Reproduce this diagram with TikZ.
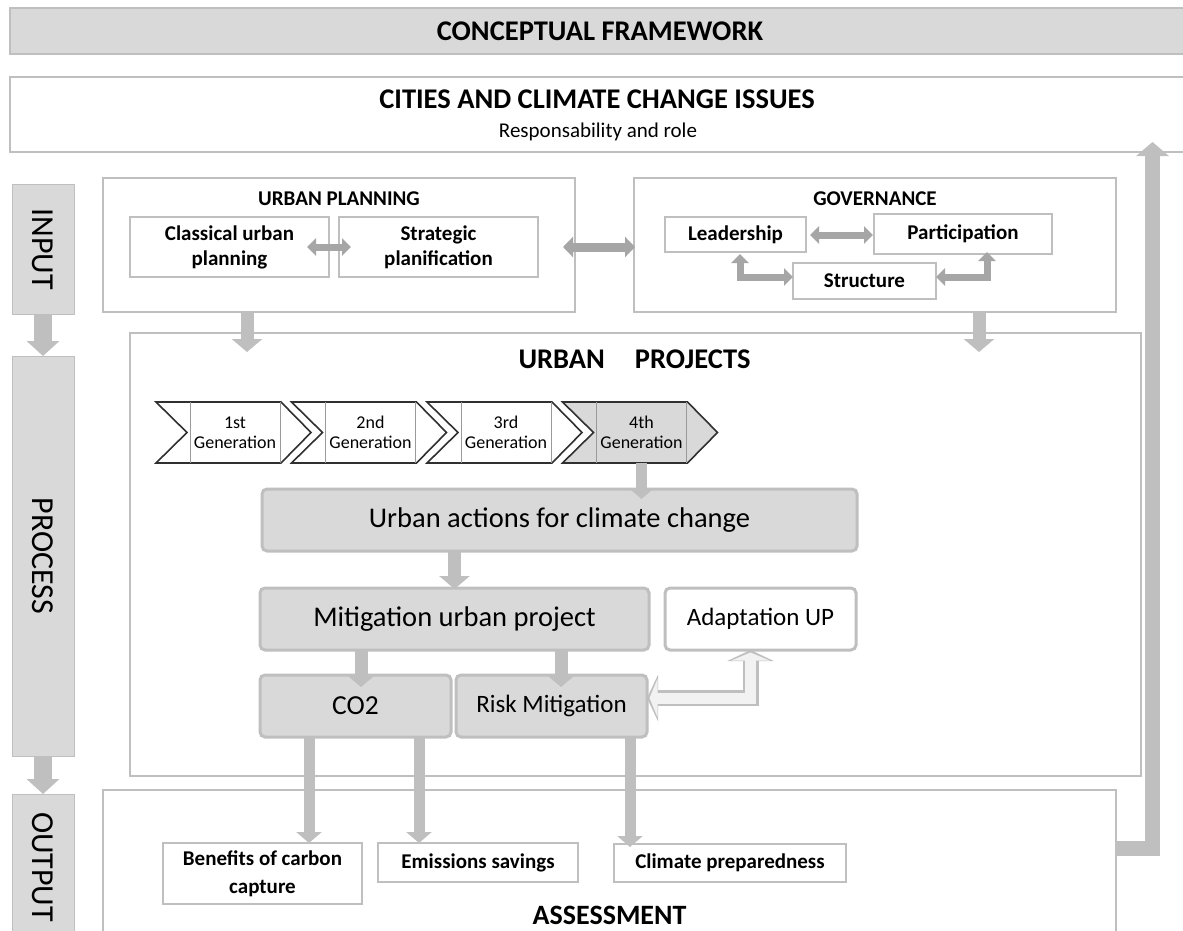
\documentclass[tikz,border=0pt]{standalone}
\usepackage{fontspec}
\setmainfont{Carlito}
\usetikzlibrary{arrows.meta,calc}
\definecolor{fillg}{HTML}{D9D9D9}
\definecolor{lineg}{HTML}{BFBFBF}
\definecolor{darkg}{HTML}{A6A6A6}
\definecolor{paleg}{HTML}{F2F2F2}
\definecolor{chevline}{HTML}{303030}
\definecolor{chevinner}{HTML}{9A9A9A}
\newcommand{\fs}[2]{\fontsize{#1}{#2}\selectfont}
\tikzset{
  every node/.style={inner sep=0pt, outer sep=0pt, text=black},
  panel/.style={draw=lineg, line width=1.4pt, fill=white},
  graybar/.style={draw=lineg, line width=1.2pt, fill=fillg},
  sidebox/.style={fill=fillg, draw=lineg, line width=0.6pt},
  smallbox/.style={draw=lineg, line width=1.4pt, fill=white, align=center},
  gbox/.style={draw=lineg, line width=3pt, fill=fillg, rounded corners=5pt, align=center},
  wbox/.style={draw=lineg, line width=3pt, fill=white, rounded corners=5pt, align=center},
  chevshape/.style={draw=chevline, line width=1.6pt, line join=miter},
  innerline/.style={draw=chevinner, line width=0.8pt},
  genlabel/.style={font=\fs{18}{20}, align=center, minimum width=90pt, minimum height=61pt},
  arrA/.style={draw=lineg, line width=13pt, -{Triangle[width=30pt,length=13pt]}},
  arrB/.style={draw=lineg, line width=11pt, -{Triangle[width=25pt,length=11pt]}},
  arrSide/.style={draw=lineg, line width=18pt, -{Triangle[width=32pt,length=15pt]}},
  arrFb/.style={draw=lineg, line width=15pt, line join=miter, -{Triangle[width=32pt,length=14pt]}},
  dblA/.style={draw=darkg, line width=9pt, {Triangle[width=20pt,length=10pt]}-{Triangle[width=20pt,length=10pt]}},
  dblB/.style={draw=darkg, line width=7pt, line join=miter, {Triangle[width=17pt,length=9pt]}-{Triangle[width=17pt,length=9pt]}},
  hollowOut/.style={draw=lineg, line width=16pt, line join=miter, {Triangle[width=46pt,length=11pt]}-{Triangle[width=46pt,length=11pt]}},
  hollowIn/.style={draw=paleg, line width=11pt, line join=miter, shorten <=2.5pt, shorten >=2.5pt, {Triangle[width=38pt,length=8pt]}-{Triangle[width=38pt,length=8pt]}},
}
\begin{document}
\begin{tikzpicture}[x=1pt,y=-1pt]
\useasboundingbox (0,0) rectangle (1183,931);

% title and cities
\node[graybar, minimum width=1180pt, minimum height=46pt, font=\fs{28.5}{34}\bfseries] (title) at (600,31) {CONCEPTUAL FRAMEWORK};
\node[panel, minimum width=1180pt, minimum height=75pt] (cities) at (600,114.5) {};
\node[font=\fs{28.5}{34}\bfseries] (citiesT) at (597,99) {CITIES AND CLIMATE CHANGE ISSUES};
\node[font=\fs{21}{25}] (citiesS) at (598,132) {Responsability and role};

% side column
\node[sidebox, rotate=-90, minimum width=130pt, minimum height=62pt, font=\fs{32}{38}] (input) at (43,249) {INPUT};
\node[sidebox, rotate=-90, minimum width=400pt, minimum height=62pt, font=\fs{32}{38}] (process) at (43,556) {PROCESS};
\node[sidebox, rotate=-90, minimum width=146pt, minimum height=62pt, font=\fs{32}{38}] (output) at (43,867) {OUTPUT};
\draw[arrSide] (input.east) -- (process.west);
\draw[arrSide] (process.east) -- (output.west);

% urban planning
\node[panel, minimum width=472pt, minimum height=134pt] (up) at (339,245) {};
\node[font=\fs{21}{25}\bfseries] (upT) at (339,198.5) {URBAN PLANNING};
\node[smallbox, minimum width=199pt, minimum height=60pt, font=\fs{21}{25}\bfseries] (classical) at (229.5,247) {Classical urban\\planning};
\node[smallbox, minimum width=199pt, minimum height=60pt, font=\fs{21}{25}\bfseries] (strategic) at (438.5,247) {Strategic\\planification};

% governance
\node[panel, minimum width=482pt, minimum height=134pt] (gov) at (875,245) {};
\node[font=\fs{21}{25}\bfseries] (govT) at (875,198.5) {GOVERNANCE};
\node[smallbox, minimum width=141pt, minimum height=35pt, font=\fs{21}{25}\bfseries] (lead) at (735.5,234.5) {Leadership};
\node[smallbox, minimum width=178pt, minimum height=40pt, font=\fs{21}{25}\bfseries] (part) at (963,234) {Participation};
\node[smallbox, minimum width=143pt, minimum height=36pt, font=\fs{21}{25}\bfseries] (struct) at (864.5,281) {Structure};

% urban projects
\node[panel, minimum width=1011pt, minimum height=443pt] (proj) at (635.5,554.5) {};
\node[font=\fs{28.5}{34}\bfseries] (projT) at (634.5,359) {URBAN\hspace{30pt}PROJECTS};

% assessment
\node[panel, minimum width=1013pt, minimum height=170pt] (assess) at (609.5,875) {};
\node[font=\fs{28}{34}\bfseries] (assessT) at (609.5,915) {ASSESSMENT};

% chevrons
\foreach \c/\n/\t/\f in {235/g1/1st/white, 370.5/g2/2nd/white, 506/g3/3rd/white, 641.5/g4/4th/fillg}{
  \draw[chevshape, fill=\f] ({\c-79},402) -- ({\c+46},402) -- ({\c+76},432.5) -- ({\c+46},463) -- ({\c-79},463) -- ({\c-48},432.5) -- cycle;
  \draw[innerline] ({\c-45},402) -- ({\c-45},463) ({\c+45},402) -- ({\c+45},463);
  \node[genlabel] (\n) at (\c,432.5) {\t\\Generation};
}

% action boxes
\node[gbox, minimum width=595pt, minimum height=62pt, font=\fs{28.5}{34}] (ua) at (559.5,520) {Urban actions for climate change};
\node[gbox, minimum width=389pt, minimum height=62pt, font=\fs{28.5}{34}] (mit) at (454.5,619) {Mitigation urban project};
\node[wbox, minimum width=191pt, minimum height=62pt, font=\fs{25}{30}] (adapt) at (760.5,619) {Adaptation UP};
\node[gbox, minimum width=191pt, minimum height=62pt, font=\fs{27.5}{33}] (co2) at (355.5,706) {CO2};
\node[gbox, minimum width=191pt, minimum height=62pt, font=\fs{25}{30}] (risk) at (551.5,706) {Risk Mitigation};

% output boxes
\node[smallbox, minimum width=199pt, minimum height=61pt, font=\fs{21}{28}\bfseries] (benef) at (262.5,873.5) {Benefits of carbon\\capture};
\node[smallbox, minimum width=200pt, minimum height=39pt, font=\fs{21}{25}\bfseries] (emis) at (478,862.5) {Emissions savings};
\node[smallbox, minimum width=232pt, minimum height=38pt, font=\fs{21}{25}\bfseries] (clim) at (730,863) {Climate preparedness};

% x / y positions for connectors
\coordinate (x1) at (247,0);
\coordinate (x2) at (979,0);
\coordinate (x3) at (454.5,0);
\coordinate (x4) at (361,0);
\coordinate (x5) at (561,0);
\coordinate (x6) at (309,0);
\coordinate (x7) at (419,0);
\coordinate (x8) at (630,0);
\coordinate (x9) at (1152.5,0);
\coordinate (y9) at (0,848);

% connectors
\draw[arrA] (up.south -| x1) -- ($(proj.north -| x1)+(0,19)$);
\draw[arrA] (gov.south -| x2) -- ($(proj.north -| x2)+(0,19)$);
\draw[dblA] ($(up.east)+(-12,2)$) -- ($(gov.west)+(1,2)$);
\draw[dblB] ($(classical.east)+(-22,0)$) -- ($(strategic.west)+(12,0)$);
\draw[dblB] ($(lead.east)+(4,0.5)$) -- ($(part.west)+(-1,1)$);
\draw[dblB] ($(lead.south)+(4.5,2)$) |- ($(struct.west)+(0,-4)$);
\draw[dblB] ($(part.south)+(24,-2)$) |- ($(struct.east)+(0,-4)$);
\draw[arrB] (g4.south) -- ($(ua.north -| g4.south)+(0,10)$);
\draw[arrA] (ua.south -| x3) -- ($(mit.north -| x3)+(0,1)$);
\draw[arrA] (mit.south -| x4) -- ($(co2.north -| x4)+(0,12)$);
\draw[arrA] (mit.south -| x5) -- ($(risk.north -| x5)+(0,12)$);
\draw[hollowOut] ($(risk.east)+(0,-8)$) -| ($(adapt.south)+(-10,0)$);
\draw[hollowIn] ($(risk.east)+(0,-8)$) -| ($(adapt.south)+(-10,0)$);
\draw[arrB] (co2.south -| x6) -- (benef.north -| x6);
\draw[arrB] (co2.south -| x7) -- (emis.north -| x7);
\draw[arrB] (risk.south -| x8) -- ($(clim.north -| x8)+(0,3)$);
\draw[arrFb] (assess.east |- y9) -| ($(cities.south -| x9)+(0,-10)$);
\end{tikzpicture}
\end{document}
